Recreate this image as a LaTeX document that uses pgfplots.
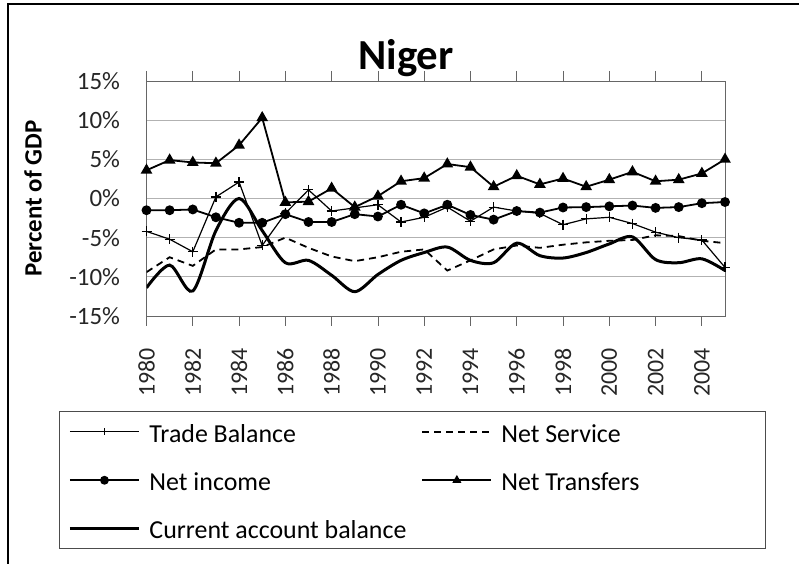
\documentclass[border=0pt]{standalone}
\usepackage{fontspec}
\setmainfont{Carlito}
\usepackage{pgfplots}
\usepackage{pgfplotstable}
\pgfplotsset{compat=1.18}

% year, trade balance, net service, net income, net transfers, current account (% of GDP)
\pgfplotstableread{
year  trade  serv  inc   trans  cab
1980  -4.2   -9.4  -1.5  3.6    -11.4
1981  -5.2   -7.5  -1.5  4.9    -8.5
1982  -6.8   -8.6  -1.4  4.6    -11.8
1983  0.2    -6.5  -2.4  4.5    -4.1
1984  2.1    -6.5  -3.1  6.8    0.0
1985  -6.0   -6.2  -3.1  10.3   -4.1
1986  -1.9   -5.0  -2.0  -0.5   -8.2
1987  1.1    -6.3  -3.0  -0.4   -7.9
1988  -1.6   -7.4  -3.0  1.3    -9.8
1989  -1.2   -8.0  -2.0  -1.1   -11.9
1990  -0.8   -7.5  -2.3  0.3    -9.7
1991  -3.0   -6.8  -0.8  2.2    -7.9
1992  -2.4   -6.5  -1.9  2.6    -6.9
1993  -1.1   -9.2  -0.8  4.4    -6.2
1994  -2.9   -7.9  -2.1  4.0    -7.9
1995  -1.1   -6.5  -2.7  1.5    -8.2
1996  -1.6   -6.0  -1.6  2.9    -5.7
1997  -1.9   -6.3  -1.8  1.8    -7.3
1998  -3.35  -5.9  -1.15 2.55   -7.6
1999  -2.6   -5.6  -1.1  1.5    -6.9
2000  -2.4   -5.4  -1.0  2.4    -5.8
2001  -3.2   -5.3  -0.9  3.4    -4.9
2002  -4.3   -4.7  -1.2  2.2    -7.8
2003  -5.0   -4.8  -1.1  2.4    -8.2
2004  -5.3   -5.4  -0.6  3.2    -7.7
2005  -8.8   -5.7  -0.45 5.0    -9.2
}\niger

\newcommand{\lgd}[2]{\makebox[#1][l]{\rule[-5bp]{0pt}{27bp}#2}}

\begin{document}
\begin{tikzpicture}[x=1bp,y=1bp]
\useasboundingbox (0,0) rectangle (799,564);
\draw[line width=2.5bp] (8,-10) -- (8,560) -- (810,560);
\node[anchor=base,font=\fontsize{43}{50}\selectfont\bfseries] at (406,494) {Niger};
\begin{axis}[
    scale only axis, width=578.5bp, height=235bp,
    at={(146.5bp,248bp)}, anchor=south west,
    xmin=1980, xmax=2005, ymin=-15, ymax=15,
    xtick={1980,1982,...,2004},
    xticklabels={1980,1982,1984,1986,1988,1990,1992,1994,1996,1998,2000,2002,2004},
    ytick={-15,-10,...,15},
    yticklabels={-15\%,-10\%,-5\%,0\%,5\%,10\%,15\%},
    ymajorgrids, grid style={gray!60, line width=0.8bp},
    axis line style={black!60, line width=0.8bp},
    tick align=outside, major tick length=10bp,
    xtick style={black!60, line width=0.8bp},
    ytick style={draw=none},
    tick label style={font=\fontsize{25}{30}\selectfont, text=black!85},
    x tick label style={rotate=90, anchor=east, font=\fontsize{24}{29}\selectfont},
    xticklabel shift=19bp, yticklabel shift=13bp,
    ylabel={Percent of GDP},
    ylabel style={font=\fontsize{25}{30}\selectfont\bfseries,
        at={(axis description cs:-0.196,0.5)}, anchor=center},
    legend columns=2, legend cell align=left,
    legend style={at={(axis description cs:-0.1513,-0.4043)}, anchor=north west,
        draw=black!70, line width=1bp, inner xsep=9bp, inner ysep=8.5bp,
        font=\fontsize{26}{31}\selectfont, row sep=25bp,
        nodes={inner sep=0pt},
        /tikz/every odd column/.append style={column sep=9bp}},
    legend image code/.code={\draw[mark repeat=2, mark phase=2, #1]
        plot coordinates {(0bp,0bp) (34.5bp,0bp) (69bp,0bp)};},
    legend image post style={mark size=3.5bp},
]
\addplot[black, line width=1.2bp, mark=+, mark size=5bp] table[x=year, y=trade] {\niger};
\addlegendentry{\lgd{272bp}{Trade Balance}}
\addplot[black, line width=1.8bp, dash pattern=on 7bp off 5bp] table[x=year, y=serv] {\niger};
\addlegendentry{\lgd{255bp}{Net Service}}
\addplot[black, line width=1.8bp, mark=*, mark size=4bp] table[x=year, y=inc] {\niger};
\addlegendentry{\lgd{272bp}{Net income}}
\addplot[black, line width=1.8bp, mark=triangle*, mark size=5bp] table[x=year, y=trans] {\niger};
\addlegendentry{\lgd{255bp}{Net Transfers}}
\addplot[black, line width=3bp, smooth] table[x=year, y=cab] {\niger};
\addlegendentry{\lgd{272bp}{Current account balance}}
\end{axis}
\end{tikzpicture}
\end{document}
